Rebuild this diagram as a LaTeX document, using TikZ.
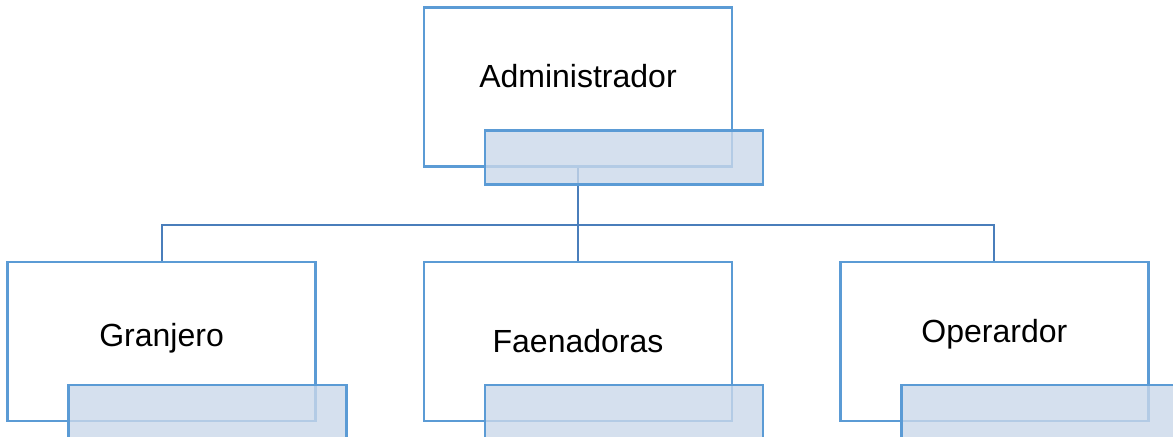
\documentclass[tikz,border=0pt]{standalone}
\usepackage{fontspec}
\setmainfont{Liberation Sans}
\usetikzlibrary{positioning}

\definecolor{boxblue}{RGB}{91,155,213}
\definecolor{tabfill}{RGB}{202,216,234}
\definecolor{linkblue}{RGB}{74,126,187}

\begin{document}
\begin{tikzpicture}[
    role/.style={
        rectangle,draw=boxblue,line width=1.2pt,
        minimum width=154pt,
        minimum height=79.5pt,
        text height=12pt,
        font=\fontsize{16}{19}\selectfont,
        align=center
    },
    tab/.style={
        rectangle,draw=boxblue,line width=1.2pt,
        fill=tabfill,fill opacity=0.8,
        minimum width=139pt,
        minimum height=27pt,
        anchor=south west
    },
    link/.style={draw=linkblue,line width=1pt}
]
\useasboundingbox (0,0) rectangle (586.5pt,218.5pt);

\node[role, text depth=11.6pt] (admin) at (289pt,175pt) {Administrador};
\node[role, text depth=0.6pt, below=46.5pt of admin] (faen) {Faenadoras};
\node[role, text depth=7.1pt, left=53pt of faen] (gran) {Granjero};
\node[role, text depth=10.6pt, right=53pt of faen] (oper) {Operardor};

% connectors
\coordinate[below=28.5pt of admin] (bus);
\draw[link] (admin.south) -- (faen.north);
\draw[link] (gran.north) |- (bus) -| (oper.north);

% tabs
\node[tab] (admin-tab) at ([xshift=30.5pt,yshift=-9pt]admin.south west) {};
\node[tab] (gran-tab) at ([xshift=30.5pt,yshift=-9pt]gran.south west) {};
\node[tab] (faen-tab) at ([xshift=30.5pt,yshift=-9pt]faen.south west) {};
\node[tab] (oper-tab) at ([xshift=30.5pt,yshift=-9pt]oper.south west) {};
\end{tikzpicture}
\end{document}
